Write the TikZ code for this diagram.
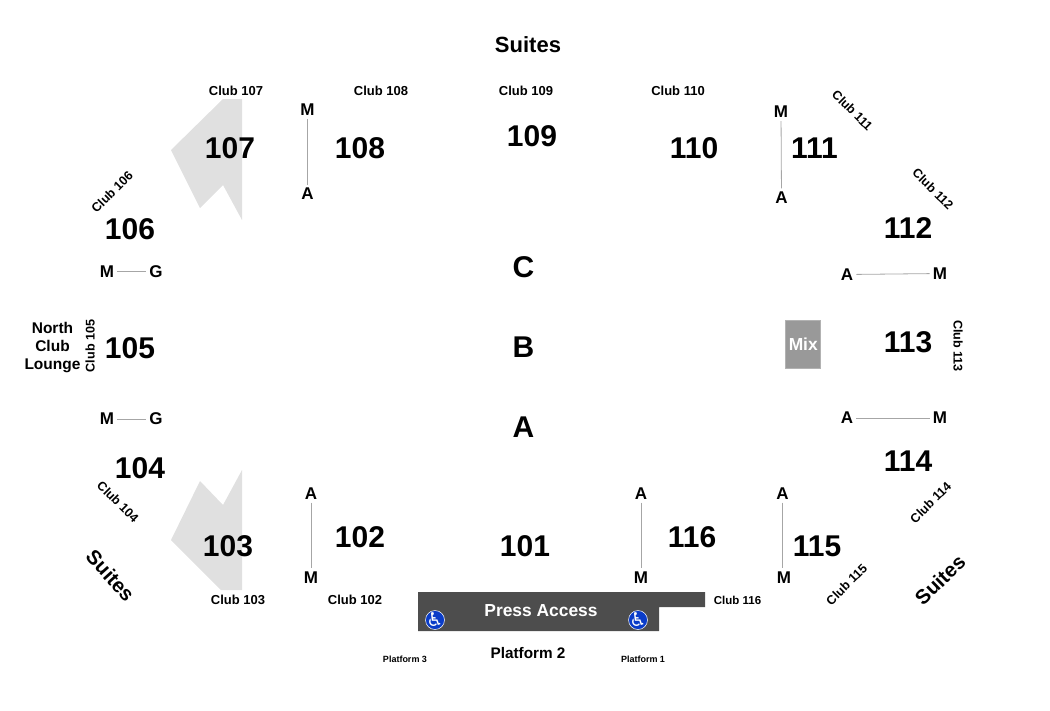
\documentclass[tikz,border=0pt]{standalone}
\usepackage{xcolor}
\usepackage{fontspec}
\setmainfont{Liberation Sans}
\newfontfamily\symfont{DejaVu Sans}
\usepackage{tikz}
\definecolor{pressgray}{HTML}{4D4D4D}
\definecolor{mixgray}{HTML}{999999}
\definecolor{clubgray}{HTML}{E0E0E0}
\definecolor{chairblue}{HTML}{0A3CC8}

\begin{document}
\begin{tikzpicture}[x=1pt, y=-1pt]
    \tikzstyle{section} = [inner sep=0pt, font=\bfseries\fontsize{30}{30}\selectfont]
    \tikzstyle{rowmark} = [inner sep=0pt, font=\bfseries\fontsize{30}{30}\selectfont]
    \tikzstyle{club} = [inner sep=0pt, font=\bfseries\fontsize{13}{13}\selectfont]
    \tikzstyle{clubtilt} = [inner sep=0pt, font=\bfseries\fontsize{12.6}{13}\selectfont]
    \tikzstyle{suites} = [inner sep=0pt, font=\bfseries\fontsize{22}{22}\selectfont]
    \tikzstyle{suitestilt} = [inner sep=0pt, font=\bfseries\fontsize{20.3}{22}\selectfont]
    \tikzstyle{platform} = [inner sep=0pt, font=\bfseries\fontsize{9}{9}\selectfont]
    \tikzstyle{endmark} = [inner sep=3pt, font=\bfseries\fontsize{17}{17}\selectfont]
    \tikzstyle{aisle} = [draw=gray!70, line width=0.8pt]
    \tikzstyle{chair} = [circle, draw=white, line width=0.5pt, fill=chairblue, text=white, minimum size=19pt, inner sep=-6pt, font=\symfont\fontsize{19}{19}\selectfont]
    \useasboundingbox (0,0) rectangle (1050,710);

    % club areas and press box
    \fill[clubgray] (223,99) -- (242,99) -- (242,220) -- (223,185) -- (200,208) -- (171,150) -- cycle;
    \fill[clubgray] (242,470) -- (223,505) -- (200,481) -- (171,540) -- (221,590) -- (242,590) -- cycle;
    \fill[pressgray] (418,592) -- (705,592) -- (705,607) -- (659,607) -- (659,631) -- (418,631) -- cycle;
    \node (mix) [draw=gray!60, fill=mixgray, text=white, minimum width=35pt, minimum height=48pt, inner sep=0pt, font=\bfseries\fontsize{17.4}{17.4}\selectfont] at (802.5,344) {\hspace{1.5pt}Mix};
    \node (press) [inner sep=0pt, text=white, font=\bfseries\fontsize{17.4}{17.4}\selectfont] at (541,611) {Press Access};
    \node (chair3) [chair] at (435,620) {♿};
    \node (chair1) [chair] at (638,620) {♿};

    % sections
    \foreach \num/\x/\y in {107/230/148.5, 108/360/148.5, 109/532/136.5, 110/694/148.5, 111/814.5/148.5,
                            106/130/229.5, 112/908/228.5, 105/130/348.5, 113/908/342.5, 104/140/468.5,
                            114/908/461.5, 103/228/546.5, 102/360/537.5, 101/525/546.5, 116/692/537.5, 115/817/546.5}
        \node (sec\num) [section] at (\x,\y) {\num};

    % rows
    \node (rowC) [rowmark] at (523.5,267) {C};
    \node (rowB) [rowmark] at (523.5,347) {B};
    \node (rowA) [rowmark] at (523.5,427) {A};

    % clubs
    \foreach \num/\x/\y in {107/236/90.5, 108/381/90.5, 109/526/90.5, 110/678/90.5,
                            102/355/599.5, 103/238/599.5}
        \node (club\num) [club] at (\x,\y) {Club \num};
    \foreach \num/\x/\y/\ang in {111/852.5/110.5/-45, 112/933/189/-45, 113/958/346/-90, 114/930.5/502.5/45,
                                 115/846.5/584.5/45, 104/118/502/-45, 105/90/346/90, 106/112/192/45}
        \node (club\num) [clubtilt, rotate=\ang] at (\x,\y) {Club \num};
    \node (club116) [club, font=\bfseries\fontsize{11.5}{13}\selectfont] at (737.5,600.5) {Club 116};

    \node (suitesN) [suites] at (528,44.5) {Suites};
    \node (suitesW) [suitestilt, rotate=-48] at (110.5,575.5) {Suites};
    \node (suitesE) [suitestilt, rotate=44] at (940,580) {Suites};
    \node (lounge) [inner sep=0pt, align=center, font=\bfseries\fontsize{15.5}{18}\selectfont] at (52.5,347.5) {North\\Club\\Lounge};
    \node (plat3) [platform] at (405,659) {Platform 3};
    \node (plat1) [platform] at (643,659) {Platform 1};
    \node (plat2) [inner sep=0pt, font=\bfseries\fontsize{15.3}{15.3}\selectfont] at (528,653) {Platform 2};

    % aisle ends
    \node (M108) [endmark] at (307.5,110) {M};
    \node (A108) [endmark] at (307.5,194) {A};
    \node (M111) [endmark] at (781,112) {M};
    \node (A111) [endmark] at (781.5,197.5) {A};
    \node (M106) [endmark] at (107,271.5) {M};
    \node (G106) [endmark] at (156,271.5) {G};
    \node (M104) [endmark] at (107,419) {M};
    \node (G104) [endmark] at (156,419) {G};
    \node (A112) [endmark] at (847,274.5) {A};
    \node (M112) [endmark] at (940,273.5) {M};
    \node (A114) [endmark] at (847,418) {A};
    \node (M114) [endmark] at (940,418) {M};
    \node (A102) [endmark] at (311,493.5) {A};
    \node (M102) [endmark] at (311,577.5) {M};
    \node (A116) [endmark] at (641,493.5) {A};
    \node (M116) [endmark] at (641,577.5) {M};
    \node (A115) [endmark] at (782.5,493.5) {A};
    \node (M115) [endmark] at (784,577.5) {M};

    \draw[aisle] (M108) -- (A108);
    \draw[aisle] (M111) -- (A111);
    \draw[aisle] (M106) -- (G106);
    \draw[aisle] (M104) -- (G104);
    \draw[aisle] (A112) -- (M112);
    \draw[aisle] (A114) -- (M114);
    \draw[aisle] (A102) -- (M102);
    \draw[aisle] (A116) -- (M116);
    \draw[aisle] (A115) -- (A115 |- M115.north);
\end{tikzpicture}
\end{document}
